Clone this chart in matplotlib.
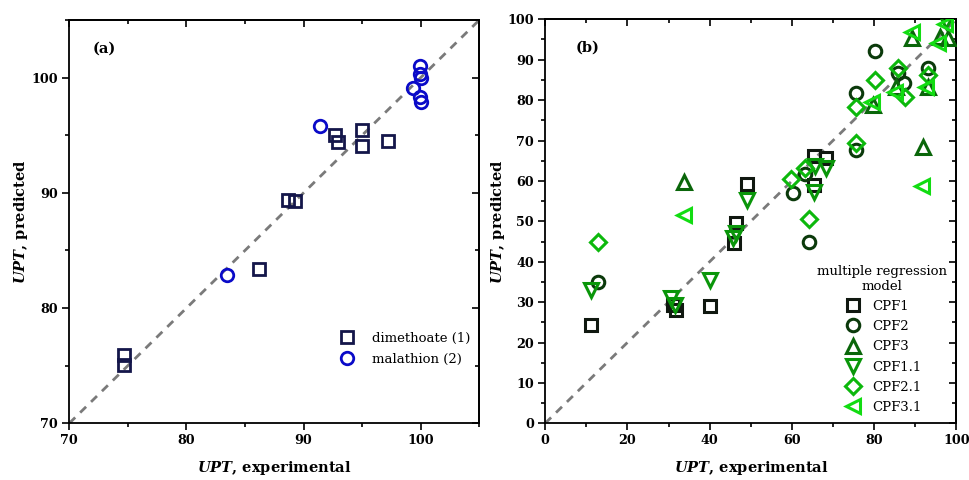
import matplotlib
matplotlib.use("Agg")
import matplotlib.pyplot as plt
from matplotlib.ticker import MultipleLocator, NullFormatter

plt.rcParams['font.family'] = ['DejaVu Serif']
plt.rcParams['mathtext.fontset'] = 'custom'
plt.rcParams['mathtext.rm'] = 'DejaVu Serif:bold'
plt.rcParams['mathtext.it'] = 'DejaVu Serif:bold:italic'

# ---- Panel (a) data ----
dim_x = [74.7, 74.7, 86.2, 88.65, 89.3, 92.7, 92.97, 95.0, 94.96, 97.18]
dim_y = [75.9, 75.1, 83.35, 89.34, 89.28, 95.0, 94.42, 95.43, 94.08, 94.48]
mal_x = [83.45, 91.44, 99.98, 99.9, 100.0, 99.35, 99.9, 100.0]
mal_y = [82.9, 95.78, 101.05, 100.29, 100.0, 99.1, 98.3, 97.88]

# ---- Panel (b) data ----
cpf1_x = [11.2, 31.2, 31.8, 40.1, 45.9, 46.4, 49.0, 65.4, 65.4, 68.2]
cpf1_y = [24.3, 29.3, 28.0, 29.1, 44.6, 49.5, 59.2, 59.0, 66.2, 65.6]
cpf2_x = [12.8, 60.2, 63.2, 64.1, 75.7, 75.7, 80.3, 85.7, 87.3, 93.0]
cpf2_y = [34.9, 56.9, 61.7, 44.9, 67.6, 81.8, 92.2, 86.6, 84.3, 88.0]
cpf3_x = [33.8, 79.8, 85.4, 89.2, 91.9, 93.0, 96.0, 98.0]
cpf3_y = [59.8, 78.8, 83.2, 95.3, 68.3, 83.3, 95.7, 95.3]
cpf11_x = [11.2, 30.6, 31.6, 40.1, 45.7, 46.4, 49.0, 65.4, 65.6, 68.3, 97.5]
cpf11_y = [33.0, 30.9, 29.3, 35.5, 45.8, 47.0, 55.3, 57.3, 63.7, 63.1, 99.5]
cpf21_x = [12.8, 59.9, 63.2, 64.1, 75.7, 75.7, 80.3, 85.7, 87.5, 93.0]
cpf21_y = [45.0, 60.4, 63.1, 50.5, 69.3, 78.4, 85.0, 87.9, 80.7, 86.2]
cpf31_x = [33.8, 79.4, 85.0, 89.1, 91.7, 92.5, 95.6, 97.2]
cpf31_y = [51.6, 79.6, 82.1, 96.9, 58.7, 83.2, 94.1, 98.8]

fig = plt.figure(figsize=(9.7, 4.8), dpi=100)
axa = fig.add_axes([0.0714, 0.1181, 0.4227, 0.8402])
axb = fig.add_axes([0.5620, 0.1181, 0.4240, 0.8417])


def style(ax, xmaj, xmin, ymaj, ymin):
    for s in ax.spines.values():
        s.set_linewidth(1.3)
    ax.xaxis.set_major_locator(MultipleLocator(xmaj))
    ax.xaxis.set_minor_locator(MultipleLocator(xmin))
    ax.yaxis.set_major_locator(MultipleLocator(ymaj))
    ax.yaxis.set_minor_locator(MultipleLocator(ymin))
    ax.tick_params(which='both', direction='out', top=False, right=False, width=1.2)
    ax.tick_params(which='major', length=5, labelsize=9.2, pad=3)
    ax.tick_params(which='minor', length=3)
    sx = ax.secondary_xaxis('top')
    sy = ax.secondary_yaxis('right')
    sx.xaxis.set_major_locator(MultipleLocator(xmaj))
    sx.xaxis.set_minor_locator(MultipleLocator(xmin))
    sy.yaxis.set_major_locator(MultipleLocator(ymaj))
    sy.yaxis.set_minor_locator(MultipleLocator(ymin))
    sx.xaxis.set_major_formatter(NullFormatter())
    sy.yaxis.set_major_formatter(NullFormatter())
    for sa in (sx, sy):
        sa.tick_params(which='both', direction='in', width=1.2)
        sa.tick_params(which='major', length=5)
        sa.tick_params(which='minor', length=3)
        for s in sa.spines.values():
            s.set_linewidth(1.3)


# Panel (a)
axa.plot([70, 105], [70, 105], ls=(0, (3, 2.5)), color='#7a7a7a', lw=2, zorder=1)
axa.plot(dim_x, dim_y, ls='none', marker='s', ms=8, mfc='none', mec='#14164a', mew=2,
         label='dimethoate (1)', zorder=3)
axa.plot(mal_x, mal_y, ls='none', marker='o', ms=9, mfc='none', mec='#0a0ac8', mew=2,
         label='malathion (2)', zorder=3)
axa.set_xlim(70, 105)
axa.set_ylim(70, 105)
style(axa, 10, 5, 10, 5)
axa.set_xlabel(r'$\mathit{UPT}$, experimental', fontsize=10.5, fontweight='bold', labelpad=8)
axa.set_ylabel(r'$\mathit{UPT}$, predicted', fontsize=10.5, fontweight='bold', labelpad=1)
axa.text(0.058, 0.93, '(a)', transform=axa.transAxes, fontsize=10.5, fontweight='bold',
         va='center', ha='left')
axa.legend(loc='lower right', bbox_to_anchor=(1.0, 0.12), frameon=False, fontsize=9.5,
           handletextpad=0.9, labelspacing=0.6, borderaxespad=0.3)

# Panel (b)
axb.plot([0, 100], [0, 100], ls=(0, (3, 2.5)), color='#7a7a7a', lw=2, zorder=1)
series = [
    (cpf1_x, cpf1_y, 's', 8, '#101810', 'CPF1'),
    (cpf2_x, cpf2_y, 'o', 9, '#0b3a0b', 'CPF2'),
    (cpf3_x, cpf3_y, '^', 10, '#0a660a', 'CPF3'),
    (cpf11_x, cpf11_y, 'v', 10, '#0a960a', 'CPF1.1'),
    (cpf21_x, cpf21_y, 'D', 8, '#0cb80c', 'CPF2.1'),
    (cpf31_x, cpf31_y, '<', 10, '#12dc12', 'CPF3.1'),
]
for xs, ys, m, ms, c, lab in series:
    axb.plot(xs, ys, ls='none', marker=m, ms=ms, mfc='none', mec=c, mew=2.2, label=lab, zorder=3)
axb.set_xlim(0, 100)
axb.set_ylim(0, 100)
style(axb, 20, 10, 10, 5)
axb.set_xlabel(r'$\mathit{UPT}$, experimental', fontsize=10.5, fontweight='bold', labelpad=8)
axb.set_ylabel(r'$\mathit{UPT}$, predicted', fontsize=10.5, fontweight='bold', labelpad=0)
axb.text(0.074, 0.93, '(b)', transform=axb.transAxes, fontsize=10.5, fontweight='bold',
         va='center', ha='left')
leg = axb.legend(loc='lower right', bbox_to_anchor=(1.0, 0.0), frameon=False, fontsize=9.5,
                 title='multiple regression\nmodel', title_fontsize=9.5,
                 handletextpad=0.7, labelspacing=0.55, borderaxespad=0.3, handlelength=1.6)
leg._legend_box.align = 'center'
leg.get_title().set_multialignment('center')

for ax in (axa, axb):
    for lab in ax.get_xticklabels() + ax.get_yticklabels():
        lab.set_fontweight('bold')

fig.savefig('out.png', dpi=100)
